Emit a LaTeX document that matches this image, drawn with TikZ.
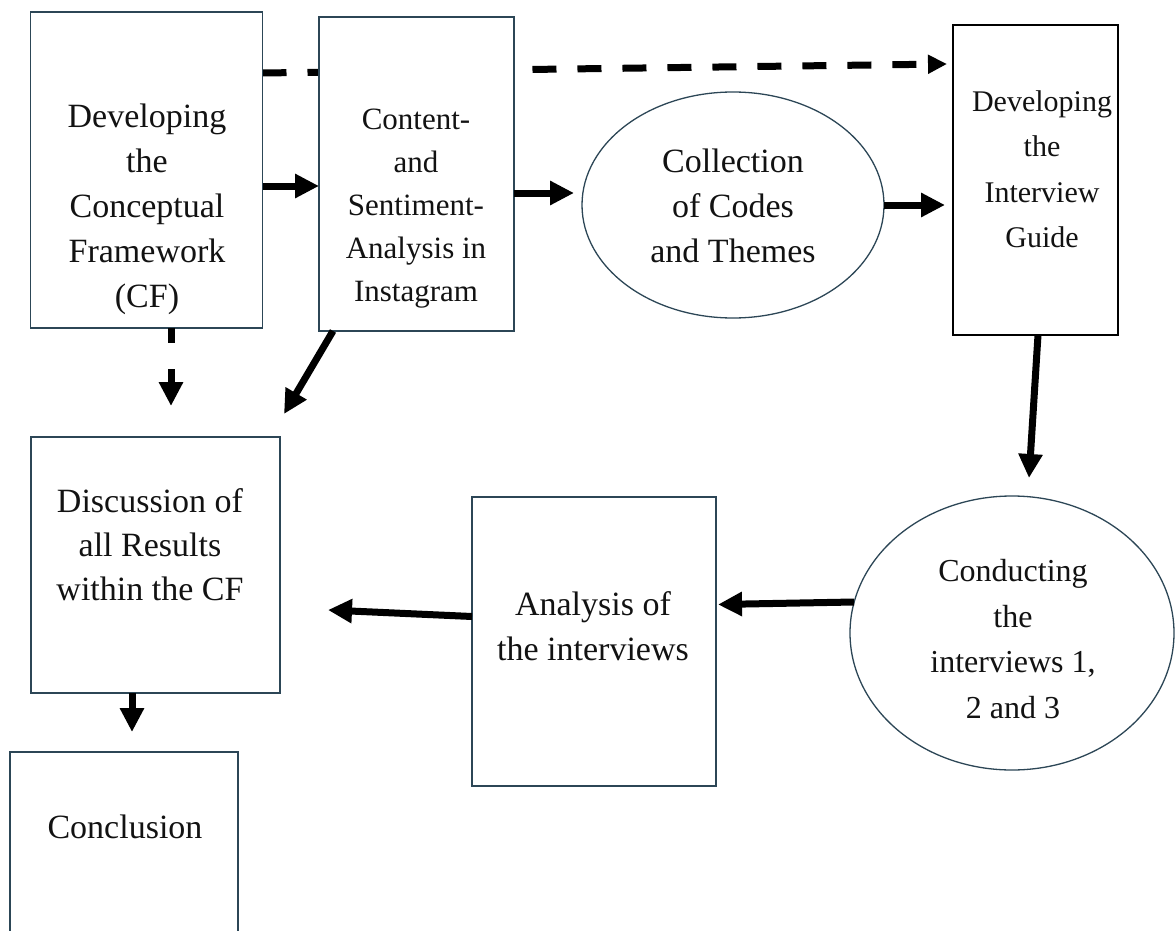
\documentclass[tikz,border=0pt]{standalone}
\usepackage{fontspec}
\setmainfont{Liberation Serif}
\usetikzlibrary{arrows.meta,shapes.geometric}
\pgfdeclarelayer{background}
\pgfsetlayers{background,main}
\definecolor{frame}{RGB}{44,70,86}
\definecolor{ink}{RGB}{18,18,18}

\begin{document}
\begin{tikzpicture}[x=1pt,y=-1pt,
  stepbox/.style={rectangle,draw=frame,line width=1.7pt,fill=white,inner sep=0pt,outer sep=0pt},
  oval/.style={ellipse,draw=frame,line width=1.3pt,fill=white,inner sep=0pt,outer sep=0pt},
  txt/.style={text=ink,align=center,inner sep=0pt},
  flow/.style={-{Triangle[length=24pt,width=23pt]},line width=7pt,black},
  flowdash/.style={-{Triangle[length=19pt,width=18pt]},line width=7pt,black,dash pattern=on 24pt off 21pt},
]
\useasboundingbox (0,0) rectangle (1175,931);

% process steps
\node[stepbox,minimum width=232pt,minimum height=316pt] (A) at (146.5,170) {};
\node[stepbox,minimum width=195pt,minimum height=314pt] (B) at (416.5,174) {};
\node[oval,minimum width=302pt,minimum height=226pt] (C) at (733,205) {};
\node[stepbox,draw=black,minimum width=165pt,minimum height=310pt] (D) at (1035.5,180) {};
\node[stepbox,minimum width=249pt,minimum height=256pt] (E) at (155.5,565) {};
\node[stepbox,minimum width=228pt,minimum height=220pt] (F) at (124,862) {};
\node[stepbox,minimum width=244pt,minimum height=289pt] (G) at (594,641.5) {};
\node[oval,minimum width=324pt,minimum height=274pt] (H) at (1012,633) {};

% step texts
\node[txt,font=\fontsize{34}{45}\selectfont] (At) at (147,209) {Developing\\the\\Conceptual\\Framework\\(CF)};
\node[txt,font=\fontsize{31}{43}\selectfont] (Bt) at (416,209) {Content-\\and\\Sentiment-\\Analysis in\\Instagram};
\node[txt,font=\fontsize{34}{45}\selectfont] (Ct) at (733,206) {Collection\\of Codes\\and Themes};
\node[txt,font=\fontsize{30}{45.5}\selectfont] (Dt) at (1042,169) {Developing\\the\\Interview\\Guide};
\node[txt,font=\fontsize{34}{44}\selectfont] (Et) at (150,545) {Discussion of\\all Results\\within the CF};
\node[txt,font=\fontsize{34}{44}\selectfont] (Ft) at (125,827) {Conclusion};
\node[txt,font=\fontsize{34}{45}\selectfont] (Gt) at (593,626) {Analysis of\\the interviews};
\node[txt,font=\fontsize{32}{45.5}\selectfont] (Ht) at (1013,639) {Conducting\\the\\interviews 1,\\2 and 3};

% dashed link running behind the content-analysis box
\begin{pgfonlayer}{background}
\draw[flowdash] ([yshift=97pt]A.east) -- ([shift={(-6pt,116pt)}]D.west);
\end{pgfonlayer}

% connectors
\draw[flow] ([yshift=-16pt]A.east) -- ([yshift=-16pt]A.east -| B.west);
\draw[flow] ([yshift=-19pt]B.east) -- ([shift={(-8pt,12pt)}]C.west);
\draw[flow] (C.east) -- ([xshift=-8pt]C.east -| D.west);
\draw[flow,dash pattern=on 15pt off 26pt on 200pt] ([xshift=24.5pt]A.south) -- ([shift={(24.5pt,-78pt)}]A.south);
\draw[flow] ([xshift=14pt]B.south west) -- ([shift={(4pt,23pt)}]E.north east);
\draw[flow] ([xshift=2.5pt]D.south) -- ([shift={(17pt,18pt)}]H.north);
\draw[flow] ([shift={(4pt,31pt)}]H.west) -- ([shift={(2pt,37pt)}]G.east);
\draw[flow] ([yshift=25pt]G.west) -- ([shift={(48pt,-45pt)}]E.east);
\draw[flow] ([xshift=-23.5pt]E.south) -- ([shift={(8pt,20pt)}]F.north);
\end{tikzpicture}
\end{document}
